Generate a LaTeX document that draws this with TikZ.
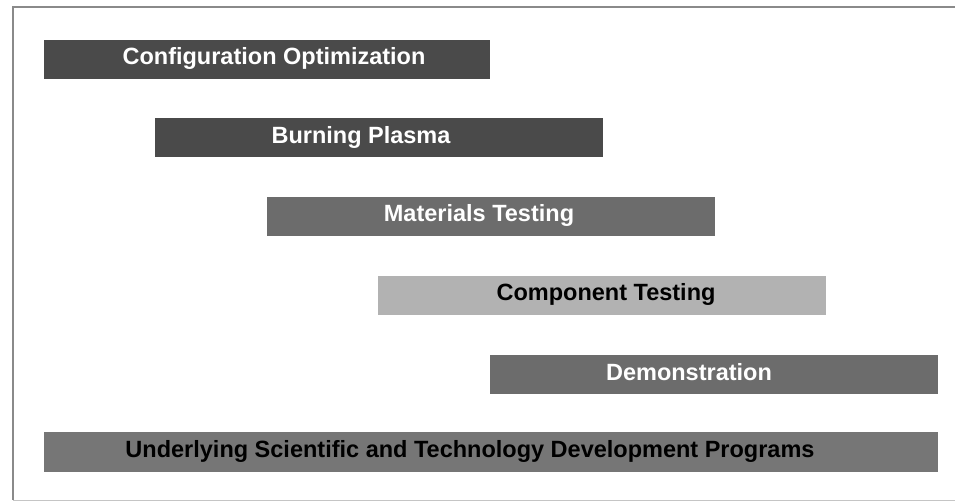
\documentclass[tikz,border=0pt]{standalone}
\usepackage{fontspec}
\setmainfont{Liberation Sans}
\definecolor{bardark}{HTML}{4A4A4A}
\definecolor{barmid}{HTML}{6C6C6C}
\definecolor{barlight}{HTML}{B2B2B2}
\definecolor{bargray}{HTML}{767676}
\definecolor{framegray}{HTML}{8A8A8A}
\begin{document}
\begin{tikzpicture}[x=1pt,y=-1pt,
  bar/.style={draw=none,inner sep=0pt},
  lbl/.style={font=\bfseries\fontsize{23.5}{26}\selectfont,inner sep=0pt}]
\useasboundingbox (0,0) rectangle (955,502);
\fill[white] (0,0) rectangle (955,502);
\draw[framegray,line width=2pt] (960,7) -- (13,7) -- (13,500);
\draw[framegray!50,line width=1pt] (13,500) -- (960,500);
% bars
\fill[bardark] (44,40) rectangle (490,79);
\node[lbl,white] (co) at (274,58) {Configuration Optimization};
\fill[bardark] (155,118) rectangle (603,157);
\node[lbl,white] (bp) at (361,137) {Burning Plasma};
\fill[barmid] (267,197) rectangle (715,236);
\node[lbl,white] (mt) at (479,215) {Materials Testing};
\fill[barlight] (378,276) rectangle (826,315);
\node[lbl,black] (ct) at (606,294) {Component Testing};
\fill[barmid] (490,355) rectangle (938,394);
\node[lbl,white] (dm) at (689,372) {Demonstration};
\fill[bargray] (44,432) rectangle (938,472);
\node[lbl,black] (us) at (470,451) {Underlying Scientific and Technology Development Programs};
\end{tikzpicture}
\end{document}
